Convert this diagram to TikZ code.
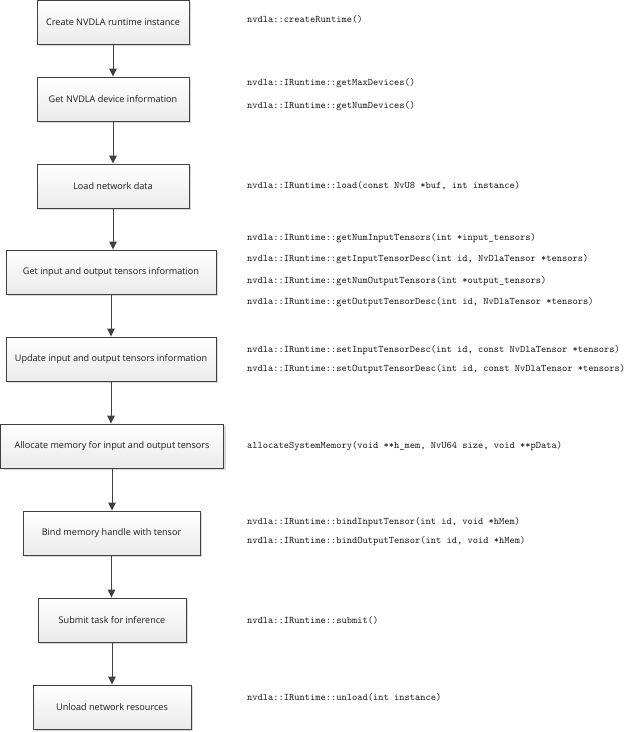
\documentclass[tikz,border=0pt]{standalone}
\usepackage{fontspec}
\setsansfont{Open Sans}
\usetikzlibrary{arrows.meta,shadows}
\definecolor{boxEdge}{RGB}{64,64,64}
\definecolor{boxShade}{RGB}{217,217,217}
\definecolor{apiInk}{RGB}{20,20,20}
\tikzset{
  procBox/.style={draw=boxEdge,line width=0.9pt,top color=white,bottom color=black!8,
    minimum height=44pt,inner sep=0pt,
    font=\sffamily\fontsize{9.1}{11}\selectfont\color{black!90},
    drop shadow={shadow xshift=2.2pt,shadow yshift=-2.2pt,fill=boxShade,opacity=1}},
  apiText/.style={anchor=west,inner sep=0pt,font=\ttfamily\fontsize{10}{11}\selectfont\color{apiInk}},
  flowArrow/.style={draw=boxEdge,line width=0.9pt,-{Triangle[length=8pt,width=7.5pt]}}
}

\begin{document}
\begin{tikzpicture}[x=1pt,y=-1pt]
\useasboundingbox (0,0) rectangle (631,732);
% steps
\node[procBox,minimum width=152pt] (create) at (113,22) {Create NVDLA runtime instance};
\node[procBox,minimum width=152pt] (devinfo) at (113,99) {Get NVDLA device information};
\node[procBox,minimum width=152pt] (load) at (113,186) {Load network data};
\node[procBox,minimum width=210pt] (getio) at (111,272) {Get input and output tensors information};
\node[procBox,minimum width=210pt] (setio) at (111,359) {Update input and output tensors information};
\node[procBox,minimum width=223pt] (alloc) at (112,446) {Allocate memory for input and output tensors};
\node[procBox,minimum width=177pt] (bind) at (111.5,533) {Bind memory handle with tensor};
\node[procBox,minimum width=148pt] (submit) at (112,620) {Submit task for inference};
\node[procBox,minimum width=158pt] (unload) at (112,707) {Unload network resources};
% arrows
\draw[flowArrow] (create) -- (create |- devinfo.north);
\draw[flowArrow] (devinfo) -- (devinfo |- load.north);
\draw[flowArrow] (load) -- (load |- getio.north);
\draw[flowArrow] (getio) -- (getio |- setio.north);
\draw[flowArrow] (setio) -- (setio |- alloc.north);
\draw[flowArrow] (alloc) -- (alloc |- bind.north);
\draw[flowArrow] (bind) -- (bind |- submit.north);
\draw[flowArrow] (submit) -- (submit |- unload.north);
% api calls
\node[apiText] (apiCreate) at (247,19) {nvdla::createRuntime()};
\node[apiText] (apiMax) at (247,83) {nvdla::IRuntime::getMaxDevices()};
\node[apiText] (apiNum) at (247,106) {nvdla::IRuntime::getNumDevices()};
\node[apiText] (apiLoad) at (247,186) {nvdla::IRuntime::load(const NvU8 *buf, int instance)};
\node[apiText] (apiNumIn) at (247,238) {nvdla::IRuntime::getNumInputTensors(int *input\_tensors)};
\node[apiText] (apiInDesc) at (247,259) {nvdla::IRuntime::getInputTensorDesc(int id, NvDlaTensor *tensors)};
\node[apiText] (apiNumOut) at (247,281) {nvdla::IRuntime::getNumOutputTensors(int *output\_tensors)};
\node[apiText] (apiOutDesc) at (247,302) {nvdla::IRuntime::getOutputTensorDesc(int id, NvDlaTensor *tensors)};
\node[apiText] (apiSetIn) at (247,350) {nvdla::IRuntime::setInputTensorDesc(int id, const NvDlaTensor *tensors)};
\node[apiText] (apiSetOut) at (247,369) {nvdla::IRuntime::setOutputTensorDesc(int id, const NvDlaTensor *tensors)};
\node[apiText] (apiAlloc) at (247,446) {allocateSystemMemory(void **h\_mem, NvU64 size, void **pData)};
\node[apiText] (apiBindIn) at (247,522) {nvdla::IRuntime::bindInputTensor(int id, void *hMem)};
\node[apiText] (apiBindOut) at (247,541) {nvdla::IRuntime::bindOutputTensor(int id, void *hMem)};
\node[apiText] (apiSubmit) at (247,620) {nvdla::IRuntime::submit()};
\node[apiText] (apiUnload) at (247,697) {nvdla::IRuntime::unload(int instance)};
\end{tikzpicture}
\end{document}
